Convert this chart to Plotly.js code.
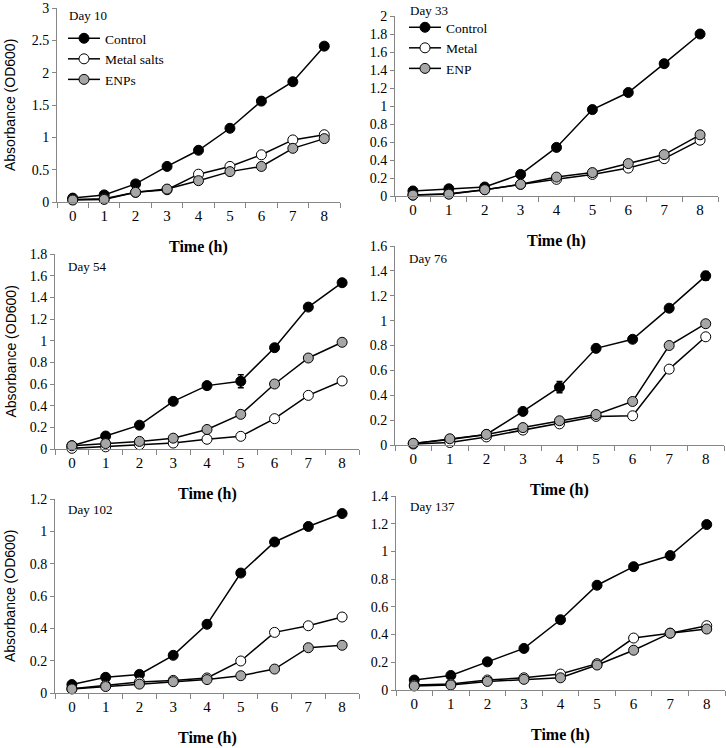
<!DOCTYPE html>
<html>
<head>
<meta charset="utf-8">
<script src="https://cdn.plot.ly/plotly-3.0.1.min.js"></script>
<style>
  html, body { margin: 0; padding: 0; background: #fff; }
  #chart { width: 726px; height: 748px; }
</style>
</head>
<body>
<div id="chart"></div>
<script>
const hours = ['0', '1', '2', '3', '4', '5', '6', '7', '8'];

// Day 10
const d10Control = [0.06, 0.11, 0.28, 0.55, 0.80, 1.14, 1.56, 1.86, 2.41];
const d10Metal = [0.04, 0.05, 0.15, 0.19, 0.43, 0.55, 0.73, 0.96, 1.04];
const d10Enp = [0.03, 0.04, 0.15, 0.20, 0.33, 0.47, 0.55, 0.83, 0.98];
// Day 33
const d33Control = [0.056, 0.08, 0.10, 0.24, 0.54, 0.96, 1.15, 1.47, 1.80];
const d33Metal = [0.01, 0.025, 0.07, 0.13, 0.185, 0.24, 0.31, 0.415, 0.62];
const d33Enp = [0.01, 0.02, 0.07, 0.13, 0.21, 0.26, 0.36, 0.46, 0.68];
// Day 54
const d54Control = [0.03, 0.12, 0.22, 0.44, 0.585, 0.625, 0.935, 1.31, 1.535];
const d54ControlErr = [0, 0, 0, 0, 0, 0.06, 0, 0, 0];
const d54Metal = [0.006, 0.02, 0.04, 0.055, 0.09, 0.117, 0.28, 0.495, 0.628];
const d54Enp = [0.03, 0.05, 0.07, 0.10, 0.18, 0.32, 0.60, 0.84, 0.985];
// Day 76
const d76Control = [0.013, 0.045, 0.085, 0.27, 0.465, 0.777, 0.85, 1.10, 1.36];
const d76ControlErr = [0, 0, 0, 0, 0.045, 0, 0, 0, 0.035];
const d76Metal = [0.008, 0.02, 0.065, 0.12, 0.17, 0.23, 0.235, 0.61, 0.87];
const d76Enp = [0.013, 0.05, 0.085, 0.14, 0.195, 0.245, 0.35, 0.80, 0.975];
// Day 102
const d102Control = [0.052, 0.097, 0.115, 0.233, 0.425, 0.742, 0.934, 1.03, 1.11];
const d102Metal = [0.027, 0.047, 0.068, 0.078, 0.093, 0.198, 0.375, 0.416, 0.47];
const d102Enp = [0.025, 0.04, 0.055, 0.07, 0.083, 0.107, 0.148, 0.28, 0.295];
// Day 137
const d137Control = [0.072, 0.105, 0.203, 0.30, 0.507, 0.756, 0.89, 0.97, 1.194];
const d137Metal = [0.036, 0.043, 0.072, 0.088, 0.115, 0.19, 0.375, 0.41, 0.464];
const d137Enp = [0.029, 0.036, 0.062, 0.077, 0.088, 0.18, 0.287, 0.41, 0.44];

const W = 726, H = 748;
const serif = 'Liberation Serif, Times New Roman, serif';
const sans = 'Liberation Sans, Arial, sans-serif';
const fills = ['#000000', '#ffffff', '#a6a6a6'];

// panel boxes in pixels: left, right, top (ymax), bottom (y=0); day label left/centre
const panels = [
  { day: 'Day 10', dx: 67, dy: 16, l: 57, r: 340, t: 8, b: 202, ymax: 3, dtick: 0.5, series: [d10Control, d10Metal, d10Enp], names: ['Control', 'Metal salts', 'ENPs'], legend: 'legend' },
  { day: 'Day 33', dx: 408, dy: 10, l: 395, r: 718, t: 16, b: 196, ymax: 2, dtick: 0.2, series: [d33Control, d33Metal, d33Enp], names: ['Control', 'Metal', 'ENP'], legend: 'legend2' },
  { day: 'Day 54', dx: 66, dy: 266, l: 55, r: 359, t: 254, b: 449, ymax: 1.8, dtick: 0.2, series: [d54Control, d54Metal, d54Enp], err: d54ControlErr },
  { day: 'Day 76', dx: 407, dy: 259, l: 395, r: 724, t: 246, b: 445, ymax: 1.6, dtick: 0.2, series: [d76Control, d76Metal, d76Enp], err: d76ControlErr },
  { day: 'Day 102', dx: 66, dy: 510, l: 55, r: 359, t: 499, b: 693, ymax: 1.2, dtick: 0.2, series: [d102Control, d102Metal, d102Enp] },
  { day: 'Day 137', dx: 408, dy: 506, l: 396, r: 725, t: 496, b: 690, ymax: 1.4, dtick: 0.2, series: [d137Control, d137Metal, d137Enp] }
];

const traces = [];
const legendStyle = { xanchor: 'left', yanchor: 'top', bgcolor: 'rgba(0,0,0,0)', font: { family: serif, size: 13.5 }, tracegroupgap: 0, itemwidth: 32 };
const layout = {
  width: W, height: H,
  margin: { l: 0, r: 0, t: 0, b: 0 },
  paper_bgcolor: '#fff', plot_bgcolor: 'rgba(0,0,0,0)',
  font: { family: serif, color: '#000', size: 14 },
  showlegend: true,
  legend: { ...legendStyle, x: 63 / W, y: 1 - 23 / H },
  legend2: { ...legendStyle, x: 404 / W, y: 1 - 12 / H },
  annotations: []
};

panels.forEach((p, i) => {
  const n = i === 0 ? '' : String(i + 1);
  const xa = 'x' + n, ya = 'y' + n;
  p.series.forEach((vals, k) => {
    const tr = {
      type: 'scatter', mode: 'lines+markers', x: hours, y: vals,
      xaxis: xa, yaxis: ya, cliponaxis: false,
      line: { color: '#000', width: 1.5 },
      marker: { size: 10, color: fills[k], line: { color: '#000', width: 1 } },
      showlegend: !!p.legend, name: p.names ? p.names[k] : ''
    };
    if (p.legend) tr.legend = p.legend;
    if (k === 0 && p.err) {
      tr.error_y = { type: 'data', array: p.err, visible: true, color: '#000', thickness: 1.5, width: 3 };
    }
    traces.push(tr);
  });
  layout['xaxis' + n] = {
    domain: [p.l / W, p.r / W], anchor: ya, type: 'category',
    range: [-0.5, 8.5], showgrid: false, zeroline: false,
    showline: true, linecolor: '#868686', linewidth: 1,
    ticks: 'outside', tickson: 'boundaries', ticklen: 5, tickcolor: '#868686',
    tickfont: { family: serif, size: 15 }
  };
  layout['yaxis' + n] = {
    domain: [1 - p.b / H, 1 - p.t / H], anchor: xa,
    range: [0, p.ymax], dtick: p.dtick, showgrid: false, zeroline: false,
    showline: true, linecolor: '#868686', linewidth: 1,
    ticks: 'outside', ticklen: 4, tickcolor: '#868686',
    tickfont: { family: serif, size: 14 }
  };
  layout.annotations.push({
    xref: 'paper', yref: 'paper', x: p.dx / W, y: 1 - p.dy / H,
    xanchor: 'left', yanchor: 'middle', showarrow: false,
    text: p.day, font: { family: serif, size: 13 }
  });
  layout.annotations.push({
    xref: xa + ' domain', yref: ya + ' domain', x: 0.5, y: 0, yshift: -34,
    xanchor: 'center', yanchor: 'top', showarrow: false,
    text: '<b>Time (h)</b>', font: { family: serif, size: 16 }
  });
  if (p.l < 100) {
    layout.annotations.push({
      xref: 'paper', yref: ya + ' domain', x: 10 / W, y: 0.5,
      xanchor: 'center', yanchor: 'middle', textangle: -90, showarrow: false,
      text: 'Absorbance (OD600)', font: { family: sans, size: 14 }
    });
  }
});

Plotly.newPlot('chart', traces, layout, { displayModeBar: false, staticPlot: true });
</script>
</body>
</html>
